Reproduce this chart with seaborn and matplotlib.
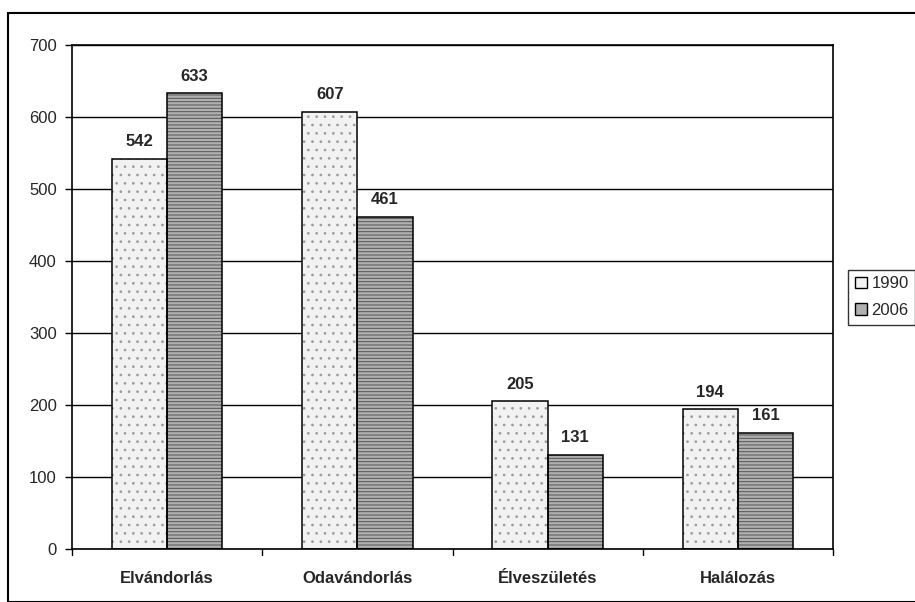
import matplotlib
matplotlib.use("Agg")
import matplotlib.pyplot as plt
import seaborn as sns
import pandas as pd
from matplotlib.patches import Rectangle

categories = ["Elvándorlás", "Odavándorlás", "Élveszületés", "Halálozás"]
series = ["1990", "2006"]
values_1990 = [542, 607, 205, 194]
values_2006 = [633, 461, 131, 161]

df = pd.DataFrame({
    "cat": categories * 2,
    "year": [series[0]] * 4 + [series[1]] * 4,
    "val": values_1990 + values_2006,
})

sns.set_theme(style="white")
plt.rcParams['font.family'] = ['Liberation Sans', 'DejaVu Sans']
plt.rcParams['hatch.linewidth'] = 0.7

fig = plt.figure(figsize=(9.15, 6.02), dpi=100)
ax = fig.add_axes([72/915, 1 - 549/602, (833-72)/915, (549-45)/602])

colors = {"1990": "#f2f2f2", "2006": "#b0b0b0"}
hatch_cols = {"1990": "#9a9a9a", "2006": "#555555"}
hatches = {"1990": "..", "2006": "-----"}

sns.barplot(data=df, x="cat", y="val", hue="year", palette=colors,
            width=0.58, edgecolor="black", linewidth=1.0, ax=ax, saturation=1)

for cont, yr in zip(ax.containers, series):
    for p in cont:
        p.set_edgecolor(hatch_cols[yr])
        p.set_hatch(hatches[yr])
        p.set_linewidth(0)
        ax.add_patch(Rectangle(p.get_xy(), p.get_width(), p.get_height(),
                               fill=False, edgecolor="black", linewidth=1.1,
                               zorder=p.get_zorder() + 0.1))
    ax.bar_label(cont, labels=[str(int(v)) for v in cont.datavalues],
                 padding=7, fontsize=12, fontweight="bold")

ax.set_ylim(0, 700)
ax.set_xlim(-0.5, 3.5)
ax.set_yticks(range(0, 701, 100))
ax.set_yticklabels([str(v) for v in range(0, 701, 100)], fontsize=12)
ax.yaxis.grid(True, color="black", linewidth=1.0)
ax.set_axisbelow(True)
ax.set_xlabel("")
ax.set_ylabel("")
ax.tick_params(axis="y", left=True, length=5, width=1, color="black", pad=6)
ax.set_xticks([0, 1, 2, 3])
ax.set_xticklabels(categories, fontsize=12, fontweight="bold")
ax.tick_params(axis="x", bottom=False, pad=10)
for x in [-0.5, 0.5, 1.5, 2.5, 3.5]:
    ax.plot([x, x], [0, -0.012], transform=ax.get_xaxis_transform(),
            color="black", linewidth=1, clip_on=False)
for s in ax.spines.values():
    s.set_color("black")
    s.set_linewidth(1.2)

leg = ax.legend(loc="center left", bbox_to_anchor=(1.02, 0.5), frameon=True,
                fontsize=12, handlelength=0.7, handleheight=0.7,
                handletextpad=0.3, borderpad=0.4, labelspacing=0.7,
                fancybox=False, borderaxespad=0)
leg.get_frame().set_edgecolor("black")
leg.get_frame().set_linewidth(1.0)
for h in leg.legend_handles:
    h.set_edgecolor("black")
    h.set_linewidth(1.0)
    h.set_hatch(None)

fig.patches.append(Rectangle((8/915, 0), 1, 1 - 13/602, transform=fig.transFigure,
                             fill=False, edgecolor="black", linewidth=1.5))

fig.savefig("out.png", dpi=100)
